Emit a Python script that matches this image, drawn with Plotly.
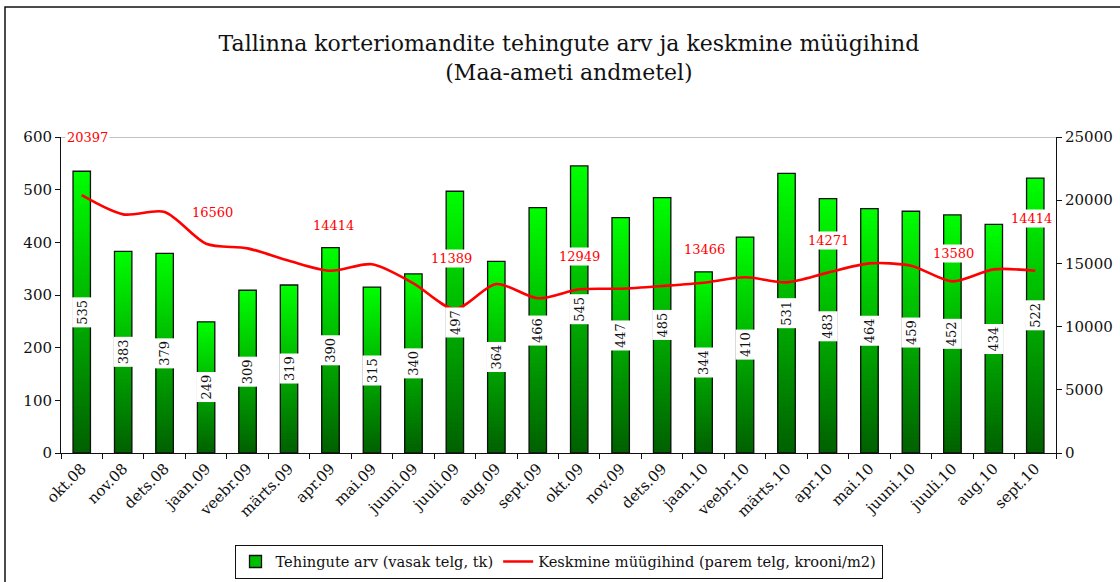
import plotly.graph_objects as go

months = ["okt.08", "nov.08", "dets.08", "jaan.09", "veebr.09", "märts.09", "apr.09", "mai.09",
          "juuni.09", "juuli.09", "aug.09", "sept.09", "okt.09", "nov.09", "dets.09", "jaan.10",
          "veebr.10", "märts.10", "apr.10", "mai.10", "juuni.10", "juuli.10", "aug.10", "sept.10"]
deals = [535, 383, 379, 249, 309, 319, 390, 315, 340, 497, 364, 466,
         545, 447, 485, 344, 410, 531, 483, 464, 459, 452, 434, 522]
price = [20397, 18880, 19070, 16560, 16190, 15210, 14414, 14930, 13420, 11389, 13370, 12240,
         12949, 13000, 13210, 13466, 13900, 13500, 14271, 15000, 14820, 13580, 14530, 14414]
# months whose price value is printed on the chart
price_label_idx = [0, 3, 6, 9, 12, 15, 18, 21, 23]

# label pixel offsets relative to the line point (layout only)
price_label_yshift = [58, 31, 45, 51, 33, 33, 32, 28, 52]
price_label_xshift = [6, 6, 3, -3, 0, 1, 1, 1, -4]

FONT = "DejaVu Serif"
N = 60
fig = go.Figure()


def lerp(c1, c2, t):
    return tuple(round(a + (b - a) * t) for a, b in zip(c1, c2))


dark = (0, 96, 0)
light = (0, 255, 0)
# gradient: tallest (lightest) drawn first, shorter darker bars on top
for i in range(N):
    frac = (N - i) / N
    t = (N - i - 0.5) / N
    c = lerp(dark, light, t)
    fig.add_trace(go.Bar(
        x=months, y=[v * frac for v in deals],
        marker=dict(color="rgb(%d,%d,%d)" % c, line=dict(width=0)),
        width=0.42, showlegend=False, hoverinfo="skip"))
# outline
fig.add_trace(go.Bar(
    x=months, y=deals, width=0.42, showlegend=False,
    marker=dict(color="rgba(0,0,0,0)", line=dict(color="#111", width=1.3))))
# legend entry for bars
fig.add_trace(go.Bar(
    x=months, y=[None] * len(months), name="Tehingute arv (vasak telg, tk)",
    marker=dict(color="rgb(0,190,0)", line=dict(color="#111", width=1.3))))

fig.add_trace(go.Scatter(
    x=months, y=price, yaxis="y2", mode="lines", name="Keskmine müügihind (parem telg, krooni/m2)",
    line=dict(color="#ff0000", width=2.6, shape="spline", smoothing=0.8)))

ann = []
for m, v in zip(months, deals):
    ann.append(dict(x=m, y=v / 2, xref="x", yref="y", text=str(v), showarrow=False,
                    textangle=-90, bgcolor="white", font=dict(family=FONT, size=13, color="#111"),
                    borderpad=2))
for k, idx in enumerate(price_label_idx):
    ann.append(dict(x=months[idx], y=price[idx], xref="x", yref="y2", text=str(price[idx]),
                    showarrow=False, yshift=price_label_yshift[k], xshift=price_label_xshift[k],
                    bgcolor="white", font=dict(family=FONT, size=13, color="#ff0000"), borderpad=1))

shapes = [
    dict(type="line", xref="paper", yref="y", x0=0, x1=1, y0=600, y1=600,
         line=dict(color="#888", width=1), layer="below"),
    dict(type="rect", xref="paper", yref="paper", xsizemode="pixel", ysizemode="pixel",
         xanchor=0, yanchor=1, x0=-56, x1=1100, y0=-470, y1=130,
         line=dict(color="#111", width=1.5), fillcolor="rgba(0,0,0,0)", layer="below"),
]

fig.update_layout(
    width=1120, height=582,
    margin=dict(l=61, r=64, t=137, b=129, autoexpand=False),
    paper_bgcolor="white", plot_bgcolor="white",
    barmode="overlay",
    font=dict(family=FONT, size=15, color="#111"),
    title=dict(text="Tallinna korteriomandite tehingute arv ja keskmine müügihind<br>(Maa-ameti andmetel)",
               x=0.508, xanchor="center", y=0.912, yanchor="top",
               font=dict(family=FONT, size=22, color="#111")),
    xaxis=dict(type="category", tickangle=-45, showline=True, linecolor="#111", linewidth=1,
               ticks="outside", ticklen=5, tickcolor="#111", tickson="boundaries",
               showgrid=False, tickfont=dict(size=15), automargin=False),
    yaxis=dict(range=[0, 600], dtick=100, showline=True, linecolor="#111", ticks="outside",
               ticklen=5, tickcolor="#111", showgrid=False, zeroline=False,
               tickfont=dict(size=15), automargin=False),
    yaxis2=dict(range=[0, 25000], dtick=5000, tickformat="d", overlaying="y", side="right",
                showline=True, linecolor="#111", ticks="outside", ticklen=5, tickcolor="#111",
                showgrid=False, zeroline=False, tickfont=dict(size=15), automargin=False),
    legend=dict(orientation="h", xref="paper", x=0.5, xanchor="center",
                yref="container", y=0.006, yanchor="bottom",
                bgcolor="white", bordercolor="#111", borderwidth=1,
                font=dict(family=FONT, size=14.6), tracegroupgap=0),
    annotations=ann, shapes=shapes, showlegend=True,
)

fig.write_html("out.html", config={"displayModeBar": False},
               post_script="document.body.style.margin='0';")
